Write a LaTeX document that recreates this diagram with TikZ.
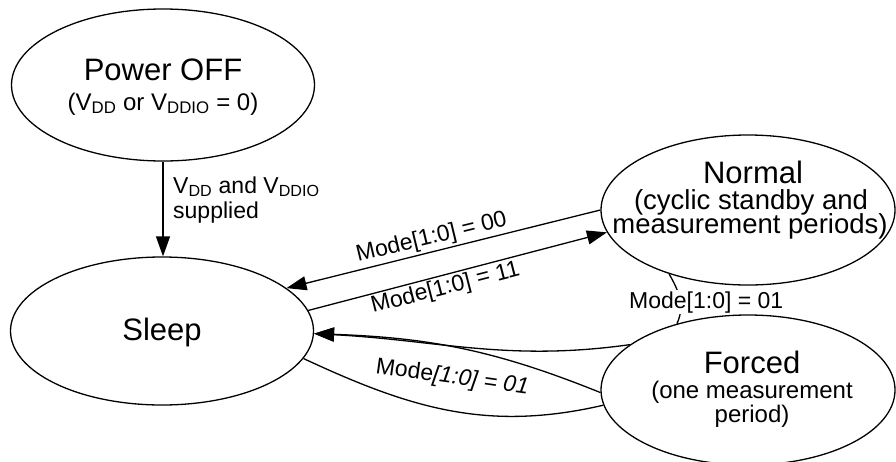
\documentclass[tikz,border=0pt]{standalone}
\usepackage{fontspec}
\setmainfont{Liberation Sans}
\usetikzlibrary{shapes.geometric,arrows.meta}
\begin{document}
\begin{tikzpicture}[x=1pt,y=-1pt,
  state/.style={draw,ellipse,line width=1.3pt,inner sep=0pt},
  conn/.style={line width=1.3pt},
  arr/.style={conn,-{Triangle[length=20pt,width=14pt]}},
  ttl/.style={font=\fontsize{31}{31}\selectfont,anchor=base,inner sep=0pt},
  sub/.style={font=\fontsize{24}{24}\selectfont,anchor=base,inner sep=0pt},
  bigsub/.style={font=\fontsize{27.5}{27.5}\selectfont,anchor=base,inner sep=0pt},
  lbl/.style={font=\fontsize{23}{23}\selectfont,anchor=base west,inner sep=0pt},
]
\useasboundingbox (0,0) rectangle (896,461);
% states
\node[state,minimum width=303pt,minimum height=152pt] (off) at (163,85) {};
\node[state,minimum width=303pt,minimum height=148pt] (sleep) at (162,331) {};
\node[state,minimum width=294pt,minimum height=150pt] (normal) at (748,210) {};
\node[state,minimum width=294pt,minimum height=150pt] (forced) at (748,390) {};
% state texts
\node[ttl] (offt) at (163,80) {Power OFF};
\node[sub] (offs) at (163,110) {(V\textsubscript{DD} or V\textsubscript{DDIO} = 0)};
\node[ttl] (sleept) at (162,340) {Sleep};
\node[ttl] (normalt) at (753,183) {Normal};
\node[bigsub] (normals1) at (751,209) {(cyclic standby and};
\node[bigsub] (normals2) at (750,233) {measurement periods)};
\node[ttl] (forcedt) at (752,373) {Forced};
\node[sub] (forceds1) at (752,398) {(one measurement};
\node[sub] (forceds2) at (752,422) {period)};
% connectors
\draw[arr] (off.south) -- (off.south |- sleep.north);
\draw[arr] (normal.180) -- (sleep.19.8);
\draw[arr] (sleep.8.2) -- (normal.189.3);
\draw[arr] (forced.159) to[out=188,in=-3] (sleep.-1);
\draw[arr] (forced.181) to[out=158,in=-2] (sleep.-1);
\draw[conn] (sleep.-11) to[out=-25,in=193] (forced.186.7);
\draw[conn] (normal.219) to[out=-60,in=65] (forced.137);
% labels
\node[lbl] (supl1) at (173,193) {V\textsubscript{DD} and V\textsubscript{DDIO}};
\node[lbl] (supl2) at (173,218) {supplied};
\node[lbl,rotate=13.6] (m00) at (358,262) {Mode[1:0] = 00};
\node[lbl,rotate=14.4] (m11) at (373,313) {Mode[1:0] = 11};
\node[lbl,rotate=-8] (m01a) at (375,373) {Mode\textit{[1:0] = 01}};
\node[lbl,fill=white,inner sep=1pt] (m01b) at (628,308) {Mode[1:0] = 01};
\end{tikzpicture}
\end{document}
